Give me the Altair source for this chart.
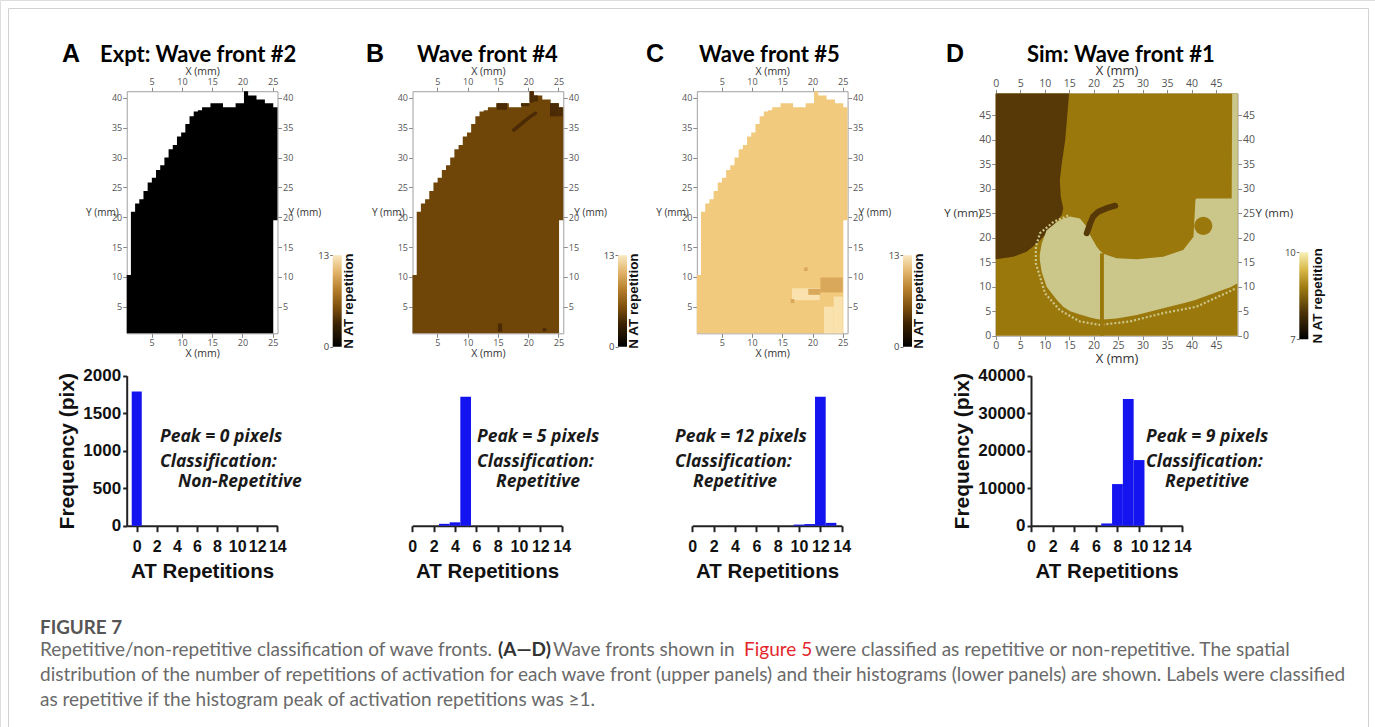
import altair as alt
import pandas as pd

W, H = 1375, 727

# ----------------------------- DATA -----------------------------
# Experimental tissue outline shared by panels A-C (mm): one column every 0.692 mm
expt_col_start = 0.88
expt_col_width = 0.692
expt_col_top = [10.3, 20.9, 22.3, 23.0, 24.4, 25.8, 26.6, 27.9, 28.7, 30.0, 31.4, 32.1,
                33.5, 34.2, 35.6, 36.9, 37.7, 37.9, 38.4, 38.4, 39.1, 39.1, 39.1, 38.4,
                38.4, 38.4, 39.1, 39.1, 41.1, 40.4, 40.4, 39.7, 39.7, 39.1, 39.1, 38.4]
expt_col_bottom = [0.55] * 35 + [19.5]
expt_map_value = {"A": 0, "B": 5, "C": 12}

# Patches of different repetition count inside the maps (mm)
b_spot_x1 = [14.8, 18.8, 20.2, 20.9, 23.6, 25.0, 15.0, 22.4]
b_spot_x2 = [16.5, 20.2, 20.9, 21.6, 25.0, 25.7, 15.7, 23.0]
b_spot_y1 = [38.0, 38.6, 39.2, 39.4, 36.9, 36.9, 0.8, 0.9]
b_spot_y2 = [39.1, 39.1, 41.1, 40.4, 39.1, 38.4, 2.2, 1.4]
b_spot_v = [4, 4, 4, 4, 4, 4, 4, 4]
b_streak_x = [17.6, 18.8, 20.0, 21.2]
b_streak_y = [34.6, 35.6, 36.6, 37.4]

c_spot_x1 = [16.6, 23.5, 21.9, 21.3, 19.3, 18.6, 16.4]
c_spot_x2 = [21.2, 25.0, 23.5, 25.0, 21.3, 19.2, 17.0]
c_spot_y1 = [6.1, 0.55, 0.55, 7.4, 7.0, 11.0, 5.6]
c_spot_y2 = [8.1, 6.7, 5.0, 9.9, 8.0, 11.6, 6.3]
c_spot_v = [13, 13, 13, 11, 11, 11, 11]

# Simulation map D (mm)
sim_size = 49.4
sim_background_value = 9
sim_dark_y = [15.6, 16.1, 17.1, 18.8, 20.9, 22.9, 24.6, 26.0, 28.3, 31.7, 35.1, 39.9, 44.7, 49.4]
sim_dark_xmax = [0.0, 3.6, 6.3, 8.4, 10.4, 12.1, 13.5, 13.8, 13.3, 13.1, 13.5, 14.2, 14.6, 15.0]
sim_dark_value = 8
sim_light_x = [9.0, 9.4, 10.4, 12.5, 13.8, 15.2, 17.2, 18.6, 19.3, 20.6, 21.3, 22.0, 24.7,
               28.8, 34.2, 38.3, 40.4, 40.8, 41.0, 48.2, 48.3, 49.4]
sim_light_top = [16.5, 18.8, 21.5, 23.2, 23.9, 24.3, 23.9, 22.2, 20.5, 18.2, 17.3, 16.7, 15.8,
                 15.6, 16.1, 17.5, 20.2, 27.7, 28.0, 28.0, 49.4, 49.4]
sim_light_bottom = [15.5, 13.0, 10.0, 7.3, 5.9, 5.0, 4.3, 3.9, 3.7, 3.4, 3.3, 3.3, 3.5,
                    4.2, 5.6, 6.6, 7.2, 7.3, 7.4, 10.0, 10.1, 10.7]
sim_light_value = 10
sim_ring_x = [14.8, 11.8, 9.05, 8.2, 8.2, 10.1, 13.1, 17.2, 21.3, 27.4, 34.2, 41.0, 49.2]
sim_ring_y = [24.5, 23.2, 20.9, 18.2, 14.75, 8.6, 5.2, 2.9, 2.2, 2.9, 4.6, 5.9, 9.7]
sim_streak_x = [18.6, 19.3, 19.9, 21.0, 22.7, 24.4]
sim_streak_y = [20.9, 22.9, 24.3, 25.3, 26.0, 26.5]
sim_stripe = {"x1": 21.3, "x2": 22.1, "y1": 0.0, "y2": 16.8, "v": 9}
sim_blob = {"x": 42.4, "y": 22.4, "v": 9}

# Histograms
hist_a_bins, hist_a_counts = [0], [1790]
hist_b_bins, hist_b_counts = [3, 4, 5], [25, 45, 1720]
hist_c_bins, hist_c_counts = [10, 11, 12, 13], [15, 22, 1720, 38]
hist_d_bins, hist_d_counts = [7, 8, 9, 10], [600, 11100, 33800, 17500]

hist_x_ticks = [0, 2, 4, 6, 8, 10, 12, 14]
hist_a_y_ticks = [0, 500, 1000, 1500, 2000]
hist_d_y_ticks = [0, 10000, 20000, 30000, 40000]
expt_x_ticks = [5, 10, 15, 20, 25]
expt_y_ticks = [5, 10, 15, 20, 25, 30, 35, 40]
sim_ticks = [0, 5, 10, 15, 20, 25, 30, 35, 40, 45]

annotations = {
    "A": ["Peak = 0 pixels", "Classification:", "Non-Repetitive"],
    "B": ["Peak = 5 pixels", "Classification:", "Repetitive"],
    "C": ["Peak = 12 pixels", "Classification:", "Repetitive"],
    "D": ["Peak = 9 pixels", "Classification:", "Repetitive"],
}
panel_titles = {"A": "Expt: Wave front #2", "B": "Wave front #4",
                "C": "Wave front #5", "D": "Sim: Wave front #1"}

# ----------------------------- STYLE -----------------------------
EXPT_COLORS = alt.Scale(domain=[0, 4, 5, 11, 12, 13],
                        range=["#000000", "#4b2b05", "#6f4508", "#d9a85a", "#f2ca7e", "#f9e2ae"])
SIM_COLORS = alt.Scale(domain=[7, 8, 9, 10],
                       range=["#000000", "#573908", "#9b780b", "#cbc78b"])
EXPT_GRAD = [(0.0, "#000000"), (0.25, "#3b2203"), (0.42, "#7a4d0c"), (0.62, "#b47d2a"),
             (0.82, "#e3b56c"), (1.0, "#f9e8c0")]
SIM_GRAD = [(0.0, "#000000"), (0.3, "#4a3208"), (0.6, "#a07c14"), (0.8, "#d8b848"),
            (1.0, "#f7f0b8")]
BAR = "#1414f0"


def sc(d0, d1, r0, r1):
    return alt.Scale(domain=[d0, d1], range=[r0, r1], nice=False, zero=False)


def map_axis(orient, pos, values, fs, title=None, tfs=10.5, **extra):
    off = {"left": -pos, "top": -pos, "right": pos - W, "bottom": pos - H}[orient]
    kw = dict(orient=orient, offset=off, values=values, grid=False,
              domainColor="#a0a0a0", domainWidth=1, tickColor="#8a8a8a", tickSize=4,
              tickWidth=1, labelColor="#555555", labelFontSize=fs, labelFont="Open Sans",
              labelPadding=1, labelFlush=False, labelOverlap=False,
              titleFont="Open Sans", titleFontSize=tfs, titleFontWeight="normal",
              titleColor="#333333", titlePadding=1)
    kw["title"] = title if title is not None else ""
    kw.update(extra)
    return alt.Axis(**kw)


def T(s, x, y, size, font="Liberation Sans", weight="normal", style="normal",
      color="#000000", align="left", baseline="alphabetic", angle=0):
    kw = dict(align=align, baseline=baseline, font=font, fontSize=size,
              fontWeight=weight, fontStyle=style, color=color)
    if angle:
        kw["angle"] = angle
    return alt.Chart(pd.DataFrame({"t": [s]})).mark_text(**kw).encode(
        text="t:N", x=alt.value(x), y=alt.value(y))


def ecol(field="v:N"):
    return alt.Color(field, scale=EXPT_COLORS, legend=None)


def scol(field="v:N"):
    return alt.Color(field, scale=SIM_COLORS, legend=None)


layers = []

# frame
layers.append(alt.Chart(pd.DataFrame({"k": [0]})).mark_rect(
    fillOpacity=0, stroke="#d2d2d2", strokeWidth=1).encode(
    x=alt.value(8.5), x2=alt.value(1368.5), y=alt.value(8.5), y2=alt.value(900)))

# ----------------------------- EXPERIMENTAL MAPS -----------------------------
lefts = [expt_col_start + i * expt_col_width for i in range(len(expt_col_top))]
right_end = expt_col_start + len(expt_col_top) * expt_col_width
outline = pd.DataFrame({"x": lefts + [right_end],
                        "top": expt_col_top + [expt_col_top[-1]],
                        "bottom": expt_col_bottom + [expt_col_bottom[-1]]})

panel_dx = {"A": 0.0, "B": 285.8, "C": 570.1}
for key, dx in panel_dx.items():
    px0 = 121.4 + dx
    xs = sc(0.88, 25.8, px0 + 0.88 * 6.05, px0 + 25.8 * 6.05)
    ys = sc(0.55, 41.1, 336.6 - 0.55 * 5.97, 336.6 - 41.1 * 5.97)
    left_px, right_px = px0 + 0.88 * 6.05, px0 + 25.8 * 6.05
    top_px, bottom_px = 336.6 - 41.1 * 5.97, 336.6 - 0.55 * 5.97
    d = outline.assign(v=expt_map_value[key])
    layers.append(alt.Chart(d).mark_area(interpolate="step-after").encode(
        x=alt.X("x:Q", scale=xs, axis=map_axis("bottom", bottom_px, expt_x_ticks, 9, "X (mm)")),
        y=alt.Y("top:Q", scale=ys, stack=None,
                axis=map_axis("left", left_px, expt_y_ticks, 9, "Y (mm)", titleAngle=0,
                              titleAlign="right", titleBaseline="middle",
                              titleX=-8.5, titleY=212, titleFontSize=10)),
        y2="bottom:Q",
        color=ecol()))
    # top / right axes
    layers.append(alt.Chart(pd.DataFrame({"x": [0.88, 25.8], "y": [0.55, 41.1]})).mark_point(
        opacity=0).encode(
        x=alt.X("x:Q", scale=xs, axis=map_axis("top", top_px, expt_x_ticks, 9, "X (mm)")),
        y=alt.Y("y:Q", scale=ys,
                axis=map_axis("right", right_px, expt_y_ticks, 9, "Y (mm)", titleAngle=0,
                              titleAlign="left", titleBaseline="middle",
                              titleX=10.5, titleY=212, titleFontSize=10))))
    if key == "B":
        spots = pd.DataFrame({"x1": b_spot_x1, "x2": b_spot_x2, "y1": b_spot_y1,
                              "y2": b_spot_y2, "v": b_spot_v})
        layers.append(alt.Chart(spots).mark_rect().encode(
            x=alt.X("x1:Q", scale=xs, axis=None), x2="x2:Q",
            y=alt.Y("y1:Q", scale=ys, axis=None), y2="y2:Q", color=ecol()))
        layers.append(alt.Chart(pd.DataFrame({"x": b_streak_x, "y": b_streak_y, "v": 4})).mark_line(
            strokeWidth=3.5, strokeCap="round").encode(
            x=alt.X("x:Q", scale=xs, axis=None), y=alt.Y("y:Q", scale=ys, axis=None),
            color=ecol()))
    if key == "C":
        spots = pd.DataFrame({"x1": c_spot_x1, "x2": c_spot_x2, "y1": c_spot_y1,
                              "y2": c_spot_y2, "v": c_spot_v})
        layers.append(alt.Chart(spots).mark_rect().encode(
            x=alt.X("x1:Q", scale=xs, axis=None), x2="x2:Q",
            y=alt.Y("y1:Q", scale=ys, axis=None), y2="y2:Q", color=ecol()))

# ----------------------------- SIMULATION MAP -----------------------------
sxs = sc(0, sim_size, 995.7, 995.7 + sim_size * 4.896)
sys_ = sc(0, sim_size, 335.7, 335.7 - sim_size * 4.904)
s_left, s_right = 995.7, 995.7 + sim_size * 4.896
s_bottom, s_top = 335.7, 335.7 - sim_size * 4.904

layers.append(alt.Chart(pd.DataFrame({"x1": [0], "x2": [sim_size], "y1": [0], "y2": [sim_size],
                                      "v": [sim_background_value]})).mark_rect().encode(
    x=alt.X("x1:Q", scale=sxs, axis=map_axis("bottom", s_bottom, sim_ticks, 10.5, "X (mm)", tfs=13)),
    x2="x2:Q",
    y=alt.Y("y1:Q", scale=sys_, axis=map_axis("left", s_left, sim_ticks, 10.5, "Y (mm)",
                                              titleAngle=0, titleAlign="right",
                                              titleBaseline="middle", titleX=-14.5,
                                              titleY=213, titleFontSize=11.5)),
    y2="y2:Q", color=scol()))
layers.append(alt.Chart(pd.DataFrame({"x": [0, sim_size], "y": [0, sim_size]})).mark_point(
    opacity=0).encode(
    x=alt.X("x:Q", scale=sxs, axis=map_axis("top", s_top, sim_ticks, 10.5, "X (mm)", tfs=13)),
    y=alt.Y("y:Q", scale=sys_, axis=map_axis("right", s_right, sim_ticks, 10.5, "Y (mm)",
                                             titleAngle=0, titleAlign="left",
                                             titleBaseline="middle", titleX=17.5,
                                             titleY=213, titleFontSize=11.5))))
layers.append(alt.Chart(pd.DataFrame({"y": sim_dark_y, "x": sim_dark_xmax, "x0": 0.0,
                                      "v": sim_dark_value})).mark_area(orient="horizontal").encode(
    y=alt.Y("y:Q", scale=sys_, axis=None),
    x=alt.X("x:Q", scale=sxs, axis=None, stack=None), x2="x0:Q", color=scol()))
layers.append(alt.Chart(pd.DataFrame({"x": sim_light_x, "top": sim_light_top,
                                      "bottom": sim_light_bottom,
                                      "v": sim_light_value})).mark_area().encode(
    x=alt.X("x:Q", scale=sxs, axis=None),
    y=alt.Y("top:Q", scale=sys_, axis=None, stack=None), y2="bottom:Q", color=scol()))
layers.append(alt.Chart(pd.DataFrame({"x": sim_ring_x, "y": sim_ring_y,
                                      "o": list(range(len(sim_ring_x))),
                                      "v": sim_light_value})).mark_line(
    strokeWidth=2.2, strokeDash=[2, 2]).encode(
    x=alt.X("x:Q", scale=sxs, axis=None), y=alt.Y("y:Q", scale=sys_, axis=None),
    order="o:Q", color=scol()))
layers.append(alt.Chart(pd.DataFrame([sim_stripe])).mark_rect().encode(
    x=alt.X("x1:Q", scale=sxs, axis=None), x2="x2:Q",
    y=alt.Y("y1:Q", scale=sys_, axis=None), y2="y2:Q", color=scol()))
layers.append(alt.Chart(pd.DataFrame({"x": sim_streak_x, "y": sim_streak_y,
                                      "v": sim_dark_value})).mark_line(
    strokeWidth=6, strokeCap="round").encode(
    x=alt.X("x:Q", scale=sxs, axis=None), y=alt.Y("y:Q", scale=sys_, axis=None),
    color=scol()))
layers.append(alt.Chart(pd.DataFrame([sim_blob])).mark_circle(size=330, opacity=1).encode(
    x=alt.X("x:Q", scale=sxs, axis=None), y=alt.Y("y:Q", scale=sys_, axis=None),
    color=scol()))

# ----------------------------- COLORBARS -----------------------------
def colorbar(x0, ytop, ybot, lo, hi, grad, title_x):
    g = alt.LinearGradient(gradient="linear",
                           stops=[alt.GradientStop(color=c, offset=o) for o, c in grad],
                           x1=0, x2=0, y1=1, y2=0)
    cb = alt.Chart(pd.DataFrame({"lo": [lo], "hi": [hi]})).mark_rect(color=g).encode(
        x=alt.value(x0), x2=alt.value(x0 + 9),
        y=alt.Y("lo:Q", scale=sc(lo, hi, ybot, ytop),
                axis=alt.Axis(orient="left", offset=-x0, values=[lo, hi], title="",
                              domain=False, tickSize=3, tickColor="#777777",
                              labelFontSize=9.5, labelColor="#444444", labelFont="Open Sans",
                              labelPadding=1, grid=False)),
        y2="hi:Q")
    return [cb, T("N AT repetition", title_x, (ytop + ybot) / 2, 13.5, weight="bold",
                  align="center", baseline="middle", angle=270, color="#111111")]

for dx in (0.0, 285.3, 570.3):
    layers += colorbar(332.7 + dx, 255.3, 346.7, 0, 13, EXPT_GRAD, 348.5 + dx)
layers += colorbar(1299.3, 252.3, 339.3, 7, 10, SIM_GRAD, 1317.5)

# ----------------------------- HISTOGRAMS -----------------------------
HX = dict(orient="bottom", offset=525.7 - H, values=hist_x_ticks, grid=False,
          domainColor="#222222", domainWidth=2, tickColor="#222222", tickWidth=2, tickSize=6,
          labelFont="Liberation Sans", labelFontWeight="bold", labelFontSize=16,
          labelColor="#111111", labelPadding=7, labelFlush=False, labelOverlap=False,
          title="AT Repetitions", titleFont="Liberation Sans", titleFontWeight="bold",
          titleFontSize=20.5, titleColor="#111111", titlePadding=7)


def hist(bins, counts, x_dom, x_rng, ymax, yticks, yaxis_px):
    d = pd.DataFrame({"lo": [b - 0.5 for b in bins], "hi": [b + 0.5 for b in bins],
                      "n": counts, "zero": 0})
    if yaxis_px is not None:
        yax = alt.Axis(orient="left", offset=-yaxis_px, values=yticks, format="d", grid=False,
                       domainColor="#222222", domainWidth=2, tickColor="#222222",
                       tickWidth=2, tickSize=4, labelFont="Liberation Sans",
                       labelFontWeight="bold", labelFontSize=17, labelColor="#111111",
                       labelPadding=2, labelOverlap=False,
                       title="Frequency (pix)", titleFont="Liberation Sans",
                       titleFontWeight="bold", titleFontSize=21, titleColor="#111111",
                       titlePadding=5)
    else:
        yax = None
    return alt.Chart(d).mark_rect(color=BAR).encode(
        x=alt.X("lo:Q", scale=sc(x_dom[0], x_dom[1], x_rng[0], x_rng[1]), axis=alt.Axis(**HX)),
        x2="hi:Q",
        y=alt.Y("n:Q", scale=sc(0, ymax, 525.7, 375.7), axis=yax),
        y2="zero:Q")

layers.append(hist(hist_a_bins, hist_a_counts, (-1, 14), (126.7, 277.3), 2000, hist_a_y_ticks, 126.7))
layers.append(hist(hist_b_bins, hist_b_counts, (0, 14), (412.3, 561.7), 2000, None, None))
layers.append(hist(hist_c_bins, hist_c_counts, (0, 14), (692.3, 841.7), 2000, None, None))
layers.append(hist(hist_d_bins, hist_d_counts, (0, 14), (1031.0, 1182.3), 40000, hist_d_y_ticks, 1031.0))

ann_pos = {"A": (160, 178), "B": (477, 496), "C": (675, 693), "D": (1146, 1165)}
for k, (x1, x3) in ann_pos.items():
    l1, l2, l3 = annotations[k]
    for s, xx, yy in ((l1, x1, 442), (l2, x1, 467), (l3, x3, 487)):
        layers.append(T(s, xx, yy, 17.5, font="Open Sans", weight="bold", style="italic",
                        color="#1a1a1a"))

# ----------------------------- PANEL TITLES -----------------------------
letter_x = {"A": 62, "B": 366, "C": 646, "D": 946}
title_x = {"A": 100, "B": 417, "C": 699, "D": 1027}
for k in "ABCD":
    layers.append(T(k, letter_x[k], 62, 25, weight="bold"))
    layers.append(T(panel_titles[k], title_x[k], 61.5, 22, font="Lato", weight="bold"))

# ----------------------------- CAPTION -----------------------------
CAP = "Lato"
GRAY = "#6a6a6a"
CS = 19
layers.append(T("FIGURE 7", 40, 634, 18.8, font=CAP, color="#555555", weight="bold"))
layers.append(T("Repetitive/non-repetitive classification of wave fronts.", 40, 656, CS,
                font=CAP, color=GRAY))
layers.append(T("(A\u2014D)", 498, 656, CS, font=CAP, color="#333333", weight="bold"))
layers.append(T("Wave fronts shown in", 553, 656, CS, font=CAP, color=GRAY))
layers.append(T("Figure 5", 744, 656, CS, font=CAP, color="#e3262b"))
layers.append(T("were classified as repetitive or non-repetitive. The spatial", 815, 656, CS,
                font=CAP, color=GRAY))
layers.append(T("distribution of the number of repetitions of activation for each wave front "
                "(upper panels) and their histograms (lower panels) are shown. Labels were classified",
                40, 681, CS, font=CAP, color=GRAY))
layers.append(T("as repetitive if the histogram peak of activation repetitions was \u22651.", 40, 706,
                CS, font=CAP, color=GRAY))

chart = alt.layer(*layers).resolve_scale(
    x="independent", y="independent", color="independent"
).resolve_axis(x="independent", y="independent").properties(
    width=W, height=H, padding=0, autosize="none"
).configure_view(stroke=None).configure(background="white")

chart.save("out.html", embed_options={"renderer": "svg", "actions": False})
